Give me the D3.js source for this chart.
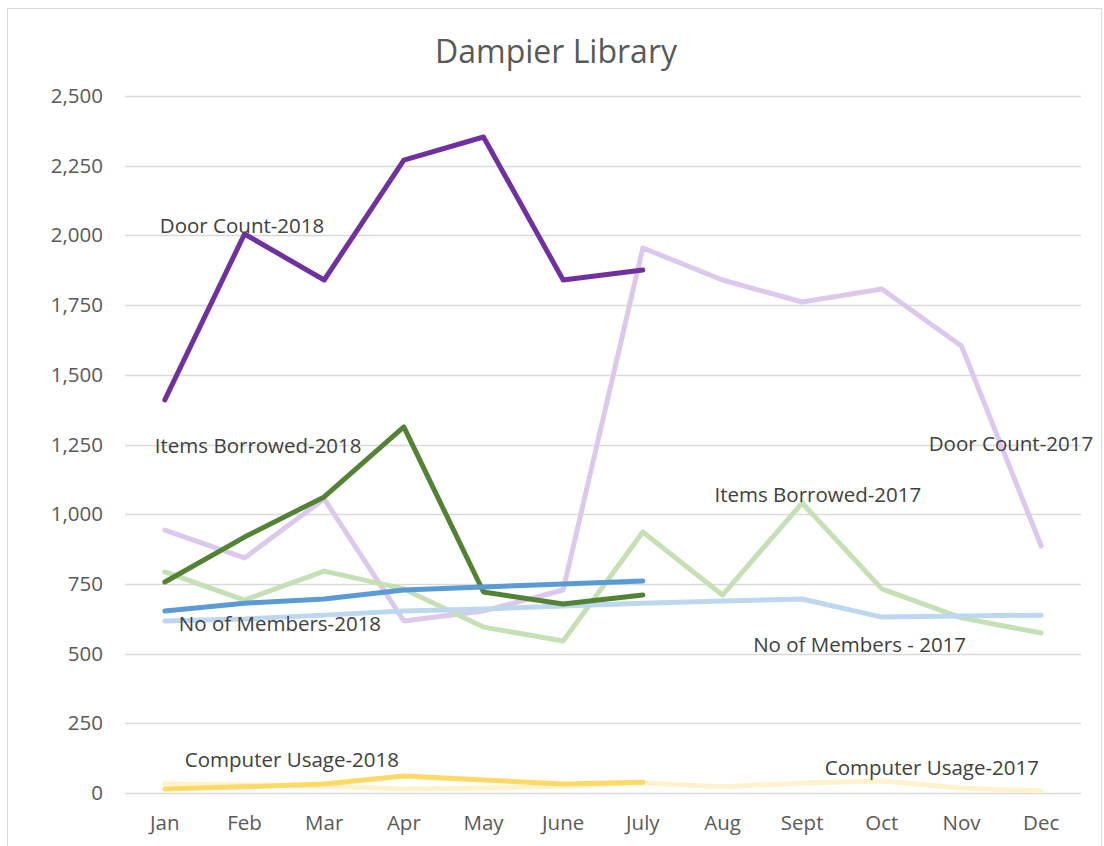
<!DOCTYPE html>
<html>
<head>
<meta charset="utf-8">
<script src="https://cdn.jsdelivr.net/npm/d3@7"></script>
<style>
  body { margin: 0; background: #fff; }
  text { font-family: "Open Sans", sans-serif; }
</style>
</head>
<body>
<div id="chart"></div>
<script>
var months = ["Jan","Feb","Mar","Apr","May","June","July","Aug","Sept","Oct","Nov","Dec"];
var yTicks = [0, 250, 500, 750, 1000, 1250, 1500, 1750, 2000, 2250, 2500];

var doorCount2017 = [943, 843, 1055, 617, 653, 728, 1955, 1840, 1761, 1808, 1603, 886];
var itemsBorrowed2017 = [793, 692, 796, 732, 595, 545, 936, 710, 1040, 732, 628, 574];
var members2017 = [617, 624, 638, 653, 660, 671, 681, 689, 696, 631, 635, 638];
var computer2017 = [32, 29, 25, 14, 18, 25, 36, 22, 36, 43, 18, 7];

var doorCount2018 = [1410, 2005, 1840, 2270, 2353, 1840, 1876];
var itemsBorrowed2018 = [757, 918, 1062, 1313, 721, 678, 710];
var members2018 = [653, 681, 696, 728, 739, 750, 760];
var computer2018 = [14, 22, 32, 61, 47, 32, 39];

var series = [
    {name: "Door Count-2017", values: doorCount2017, color: "#dcc8ec"},
    {name: "Items Borrowed-2017", values: itemsBorrowed2017, color: "#c5e0b4"},
    {name: "No of Members - 2017", values: members2017, color: "#bdd7ee"},
    {name: "Computer Usage-2017", values: computer2017, color: "#fff2cc"},
    {name: "Door Count-2018", values: doorCount2018, color: "#7030a0"},
    {name: "Items Borrowed-2018", values: itemsBorrowed2018, color: "#548235"},
    {name: "No of Members-2018", values: members2018, color: "#5b9bd5"},
    {name: "Computer Usage-2018", values: computer2018, color: "#ffd966"}
];

// label anchor: month index + value where the text sits
var labels = [
    {text: "Door Count-2018", month: 0, value: 2010, anchor: "start", dx: -5},
    {text: "Items Borrowed-2018", month: 0, value: 1220, anchor: "start", dx: -10},
    {text: "No of Members-2018", month: 0, value: 580, anchor: "start", dx: 14},
    {text: "Computer Usage-2018", month: 0, value: 95, anchor: "start", dx: 20},
    {text: "Door Count-2017", month: 11, value: 1225, anchor: "end", dx: 52},
    {text: "Items Borrowed-2017", month: 7, value: 1045, anchor: "start", dx: -8},
    {text: "No of Members - 2017", month: 8, value: 505, anchor: "start", dx: -49},
    {text: "Computer Usage-2017", month: 9, value: 65, anchor: "start", dx: -57}
];

var width = 1104, height = 846;
var margin = {top: 96, left: 125, right: 23, bottom: 53};

var svg = d3.select("#chart")
    .append("svg")
    .attr("width", width)
    .attr("height", height);

svg.append("rect")
    .attr("x", 7.5).attr("y", 8.5)
    .attr("width", 1094).attr("height", 860)
    .attr("fill", "#fff")
    .attr("stroke", "#d9d9d9");

var xScale = d3.scaleBand()
    .domain(months)
    .range([margin.left, width - margin.right]);

var yScale = d3.scaleLinear()
    .domain([0, 2500])
    .range([height - margin.bottom, margin.top]);

function xPos(i) { return xScale(months[i]) + xScale.bandwidth() / 2; }

svg.append("g")
    .selectAll("line")
    .data(yTicks)
    .enter()
    .append("line")
        .attr("x1", margin.left)
        .attr("x2", width - margin.right)
        .attr("y1", function(d) { return Math.round(yScale(d)) + 0.5; })
        .attr("y2", function(d) { return Math.round(yScale(d)) + 0.5; })
        .attr("stroke", "#d9d9d9")
        .attr("stroke-width", 1.5);

var yAxis = svg.append("g")
    .attr("transform", `translate(${margin.left},0)`)
    .call(d3.axisLeft(yScale).tickValues(yTicks).tickFormat(d3.format(",")).tickSize(0).tickPadding(22));
yAxis.select(".domain").remove();
yAxis.selectAll("text").attr("fill", "#595959").style("font-size", "20.5px").style("font-family", "'Open Sans', sans-serif");

var xAxis = svg.append("g")
    .attr("transform", `translate(0,${height - margin.bottom})`)
    .call(d3.axisBottom(xScale).tickSize(0).tickPadding(22));
xAxis.select(".domain").remove();
xAxis.selectAll("text").attr("fill", "#595959").style("font-size", "20.5px").style("font-family", "'Open Sans', sans-serif");

var line = d3.line()
    .x(function(d, i) { return xPos(i); })
    .y(function(d) { return yScale(d); });

svg.append("g")
    .selectAll("path")
    .data(series)
    .enter()
    .append("path")
        .attr("d", function(d) { return line(d.values); })
        .attr("fill", "none")
        .attr("stroke", function(d) { return d.color; })
        .attr("stroke-width", 5)
        .attr("stroke-linecap", "round")
        .attr("stroke-linejoin", "round");

svg.append("g")
    .selectAll("text")
    .data(labels)
    .enter()
    .append("text")
        .attr("x", function(d) { return xPos(d.month) + d.dx; })
        .attr("y", function(d) { return yScale(d.value); })
        .attr("text-anchor", function(d) { return d.anchor; })
        .attr("fill", "#404040")
        .style("font-size", "20.5px")
        .text(function(d) { return d.text; });

svg.append("text")
    .attr("x", 556)
    .attr("y", 63)
    .attr("text-anchor", "middle")
    .attr("fill", "#595959")
    .style("font-size", "32px")
    .text("Dampier Library");
</script>
</body>
</html>
